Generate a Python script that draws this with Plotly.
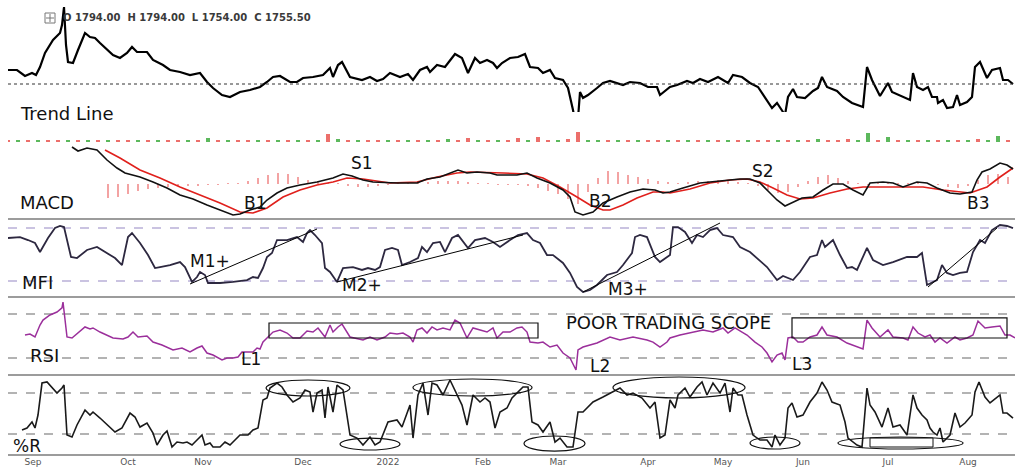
import plotly.graph_objects as go

# ---------------- data ----------------
month_ticks = [5, 24, 39, 59, 76, 95, 110, 128, 143, 159, 176, 192]
month_labels = ["Sep", "Oct", "Nov", "Dec", "2022", "Feb", "Mar", "Apr", "May", "Jun", "Jul", "Aug"]

price_t = [0, 1.8, 3.4, 4.8, 5.6, 6.4, 7.4, 9, 10.4, 10.8, 11.2, 11.6, 12, 13, 14, 15.4, 16.4, 17.4, 18.4, 19.8,
           21, 22.4, 23.8, 24.8, 25.8, 27.8, 29, 31, 32.4, 34.4, 36.4, 38.4, 39.8, 41, 42.8, 44.4, 46.4, 48.4, 50.4,
           51.8, 53, 54.4, 56.4, 57.8, 59, 61, 63, 64.4, 65, 66, 66.8, 68.4, 70.8, 72.4, 73.8, 75, 76.4, 78.4, 80,
           81, 82.4, 83.8, 84.4, 85.8, 87.4, 89.4, 90.8, 92, 93.4, 94.4, 95.8, 97, 97.8, 98.8, 100.4, 102, 103.4,
           104.4, 106, 107, 108.4, 109.4, 111, 112, 113, 113.8, 114.4, 115, 116, 117.8, 119, 120.4, 121.8, 123,
           124.4, 126.4, 128, 129.8, 130.4, 131.8, 132.4, 133.8, 135.8, 137, 138.4, 140, 142, 144, 145, 146.8,
           148.4, 150, 151.4, 152.8, 153.8, 154.8, 155.4, 156, 157, 157.8, 159.4, 161, 162, 162.8, 163.8, 165.8,
           167, 168.8, 171, 171.8, 172.8, 174.4, 176, 176.8, 179, 180.4, 181, 181.8, 183, 184, 184.8, 185.8, 186,
           187, 187.8, 189, 189.8, 190.4, 191.8, 192.8, 193.4, 194.4, 195.8, 196.8, 198.4, 199, 200, 201]
price_v = [1776.5, 1776.5, 1767.5, 1772, 1769, 1781, 1802, 1821.5, 1832, 1844, 1871, 1814, 1788.5, 1787, 1806.5,
           1832, 1826, 1824.5, 1817, 1806.5, 1799, 1794.5, 1802, 1811, 1803.5, 1803.5, 1791.5, 1784, 1776.5,
           1773.5, 1769, 1772, 1758.5, 1749.5, 1739, 1736, 1743.5, 1746.5, 1751, 1758.5, 1766, 1767.5, 1758.5,
           1758.5, 1764.5, 1766, 1769, 1779.5, 1766, 1784, 1788.5, 1766, 1761.5, 1766, 1760, 1763, 1772, 1766,
           1770.5, 1761.5, 1776.5, 1781, 1773.5, 1784, 1781, 1800.5, 1794.5, 1772, 1794.5, 1787, 1791.5, 1787,
           1779.5, 1787, 1794.5, 1796, 1800.5, 1781, 1779.5, 1772, 1776.5, 1764.5, 1761.5, 1749.5, 1716.5, 1683.5,
           1743.5, 1734.5, 1739, 1749.5, 1757, 1760, 1757, 1754, 1758.5, 1757, 1751, 1751, 1739, 1746.5, 1751,
           1754, 1760, 1757, 1763, 1758.5, 1766, 1757, 1769, 1766, 1757, 1751, 1734.5, 1719.5, 1727, 1716.5, 1709,
           1736, 1748, 1736, 1734.5, 1745, 1749.5, 1766, 1751, 1745, 1736, 1727, 1721, 1781, 1761.5, 1737.5, 1757,
           1743.5, 1736, 1731.5, 1772, 1751, 1746.5, 1751, 1736, 1736, 1727, 1731.5, 1719.5, 1721, 1739, 1724,
           1728.5, 1736, 1781, 1788.5, 1764.5, 1776.5, 1779.5, 1761.5, 1761.5, 1755.5]
last_close = 1755.5

vol_t = list(range(0, 201, 2))
vol_v = [14, 12, 15, 13, 16, 12, 14, 13, 15, 12,
         13, 15, 12, 14, 13, 16, 12, 15, 13, 14,
         45, 13, 12, 15, 14, 13, 12, 14, 13, 15,
         14, 16, 80, 30, 13, 14, 12, 13, 15, 14,
         13, 14, 15, 12, 30, 13, 40, 13, 12, 14,
         13, 40, 15, 50, 14, 16, 30, 100, 13, 20,
         12, 14, 13, 12, 15, 13, 14, 12, 13, 14,
         12, 13, 14, 15, 12, 13, 20, 13, 12, 14,
         13, 30, 14, 25, 28, 15, 90, 20, 50, 13,
         12, 14, 13, 15, 12, 14, 13, 30, 25, 60, 14]
vol_dir = ("rgrgrrgrgr" "grrgrgrrgr" "grgrrgrgrg" "rgrgrgrrgr" "grgrgrrgrg"
           "rrgrrgrrgg" "rgrgrrgrgr" "grgrgrrgrg" "rgrrrggrgr" "grgrgrgrggr")

macd_t = [12.8, 14, 15.8, 17.8, 19.8, 21.8, 23.4, 26.4, 29, 31.8, 34.4, 37, 39.8, 42.4, 45, 46.4, 48.4, 50.4,
          51.8, 53.8, 55.8, 58.4, 61.8, 65, 67, 68.8, 71, 73, 75.8, 77.8, 81.8, 83.8, 86.4, 88.4, 90, 91.8, 93.8,
          96.4, 97.8, 101.8, 103.8, 105.8, 108.4, 111, 112.4, 113.4, 115, 117, 119, 121.8, 124.4, 127, 129.4, 131,
          132.4, 135, 138.4, 142.4, 146.4, 148.4, 150.4, 152.4, 153.8, 155.4, 157, 158.8, 161, 163, 165, 167, 169,
          171, 172.4, 175, 177, 179, 181.8, 183.8, 185.8, 188.4, 190.4, 192.8, 193.8, 194.8, 196.4, 198.4, 199.8, 201]
macd_v = [37, 33, 36, 34, 24, 16, 11, 7, 2, -4, -11, -15, -21, -26, -31, -30, -26, -23, -16, -9, -4, -1, 2, 6, 10,
          8, 4, 2, 1, 1, 1, 5, 7, 11, 14, 11, 12, 11, 9, 9, 11, 6, 1, -6, -13, -28, -31, -28, -19, -13, -8, -5, -6,
          -9, -8, -4, 1, 3, 5, 5, 1, -9, -16, -22, -18, -14, -13, -6, 0, 0, -6, -11, 1, 2, 1, -3, 2, 1, -4, -9,
          -10, -8, 4, 12, 15, 21, 19, 15]
signal_t = [19.4, 22.4, 26.4, 30.4, 34.4, 38.4, 42.4, 46.4, 49, 51.8, 55, 58.4, 61.8, 65, 67.8, 71, 76.4, 81.8,
            85.8, 89.8, 92.4, 99, 103.8, 107, 110.4, 113.8, 116.4, 119, 120.4, 123, 125.8, 129, 131, 132.4, 136.4,
            140.4, 144.4, 147.8, 150.4, 153, 155.8, 158.4, 161, 164.4, 167.8, 171, 175, 179, 183, 187, 190.4,
            192.4, 195.8, 198.4, 201]
signal_v = [34, 26, 14, 6, -3, -11, -19, -28, -29, -24, -13, -6, -1, 2, 6, 5, 1, 2, 7, 11, 12, 11, 10, 6, -3, -13,
            -21, -26, -26, -21, -14, -8, -8, -9, -5, 1, 4, 5, 2, -4, -11, -15, -14, -9, -5, -3, -3, -3, -3, -6, -8,
            -9, -3, 7, 16]
hist_t = list(range(20, 201, 2))
hist_v = [-14, -13, -10, -7, -5, -4, -3, -2, -2, -2, -1, -1, 0.5, 1, 3, 6, 9, 11, 10, 7, 4, 2, 1, 1, -2, -3, -3,
          -2, -1, 0.5, 1, 1, 2, 3, 3, 3, 2, 1, 0.5, -0.5, -1, -1, -2, -4, -7, -10, -15, -20, -8, 6, 13, 12, 9, 7,
          5, 3, 2, 1, 2, 3, 3, 4, 3, 2, 1, -2, -6, -9, -8, -3, 3, 7, 9, 6, 3, 1, -1, 1, 1, 1, 0.5, 1, 0.5, -1,
          -3, -4, -2, 4, 9, 10, 7]

mfi_t = [0, 2.4, 4, 5.4, 6.4, 7, 8, 9.4, 10.4, 11.2, 11.8, 12.6, 13.8, 15.8, 17.8, 19.8, 21.4, 22.8, 24, 24.8,
         26.4, 28, 29.4, 30.4, 32.4, 34.4, 35.4, 36.8, 37.8, 38.4, 39.4, 40, 42.4, 45, 47.8, 49, 50, 51, 51.8,
         52.8, 53.8, 55.8, 57.8, 59, 59.8, 60.4, 61.4, 62.8, 63.4, 64.4, 65.8, 67, 69, 70.8, 72, 73.4, 74.4, 75.4,
         76.8, 78, 78.8, 80.4, 82, 82.8, 83.8, 85, 86.4, 87.4, 88.8, 90, 91, 92, 93.4, 95.4, 97, 98.4, 100.4, 102,
         103.8, 105, 106.4, 107.8, 109, 111, 112.4, 113.8, 115, 116.4, 117.8, 119.8, 121.8, 123, 124.8, 125.4,
         126.4, 127.8, 129.4, 130.4, 132.4, 133, 134, 135.4, 136.8, 137.8, 139, 140.4, 141.8, 143, 145, 146.4,
         148.4, 149.8, 151.8, 153.8, 155, 157, 158.4, 160.4, 161.8, 162.8, 163.4, 165, 166.4, 167.8, 168.8, 169.8,
         171.8, 173, 175, 177, 179.8, 181.8, 182.8, 183.8, 185.8, 186.8, 187.8, 189, 190.4, 191.8, 193, 194.4,
         195.4, 196.8, 198.4, 199.8, 201]
mfi_v = [68.7, 69.8, 66.4, 63, 52.8, 58.5, 68.7, 80, 82.3, 81.1, 66.4, 47.2, 46, 55.1, 58.5, 51.7, 46, 38.1, 69.8,
         74.3, 63, 49.4, 34.7, 35.8, 38.1, 41.5, 35.8, 18.9, 24.5, 30.2, 26.8, 17.7, 17.7, 18.9, 21.1, 24.5, 23.4,
         34.7, 47.2, 51.7, 66.4, 66.4, 69.8, 64.2, 74.3, 77.7, 72.1, 63, 34.7, 30.2, 18.9, 34.7, 35.8, 32.5, 34.7,
         32.5, 35.8, 55.1, 57.4, 55.1, 38.1, 41.5, 46, 58.5, 52.8, 63, 64.2, 52.8, 68.7, 72.1, 64.2, 57.4, 66.4,
         68.7, 64.2, 58.5, 66.4, 72.1, 74.3, 66.4, 63, 49.4, 49.4, 40.4, 29.1, 13.2, 7.5, 9.8, 15.5, 26.8, 30.2,
         38.1, 51.7, 69.8, 72.1, 69.8, 47.2, 41.5, 49.4, 81.1, 81.1, 75.5, 63, 72.1, 69.8, 77.7, 80, 72.1, 69.8,
         58.5, 52.8, 46, 35.8, 21.1, 25.7, 21.1, 30.2, 47.2, 49.4, 66.4, 58.5, 66.4, 49.4, 34.7, 35.8, 32.5, 57.4,
         43.8, 38.1, 41.5, 47.2, 47.2, 51.7, 15.5, 21.1, 38.1, 29.1, 26.8, 29.1, 30.2, 52.8, 66.4, 63, 77.7, 83.4,
         82.3, 80]
mfi_trend_t = [[36.4, 61.8], [65.8, 103.0], [115.0, 142.4], [184.0, 197.8]]
mfi_trend_v = [[16.6, 78.9], [18.9, 72.1], [7.5, 85.7], [13.2, 80.0]]

rsi_t = [3.4, 4.4, 5.4, 6.4, 7, 8.4, 9.8, 10.8, 11, 11.8, 12.8, 14, 15.4, 16.4, 17, 18.4, 19.8, 21, 23, 24, 25, 26,
         27.8, 29, 30.8, 31.8, 33, 34.8, 36.4, 37.8, 38.8, 39.8, 41, 42.8, 43.8, 45, 46, 46.8, 49, 49.8, 50.4, 51,
         52, 53, 54.4, 55.8, 57, 58.4, 59.8, 61, 62, 63.4, 64.4, 65, 66, 66.8, 68.4, 71, 72.4, 73.8, 75.4, 76.4,
         77.8, 79, 80.4, 81, 81.8, 82.8, 83.8, 84.8, 85.8, 87, 88.4, 89.4, 90.4, 91.8, 93, 94.4, 95.8, 97, 97.8,
         99, 100.4, 101.8, 102.8, 103.8, 104.4, 106, 107, 108.4, 109.8, 111, 112.4, 113.6, 114, 115, 117.8, 120.4,
         122.4, 125, 127.8, 129, 130.4, 131.8, 132.4, 134.4, 137, 139, 141, 143, 144, 145.4, 146.8, 147.8, 149.4,
         150.8, 151.8, 152.8, 153.8, 154.8, 155.4, 156, 157, 158, 159, 160.4, 161.8, 162.8, 163.8, 165.8, 167.8,
         169.8, 171, 171.8, 172.8, 174.4, 176, 177, 179, 180, 181, 182, 183.4, 184.4, 185.4, 186.4, 187.8, 189.4,
         190.4, 191.8, 193, 194, 195.4, 196.8, 198.4, 199.4, 200.4, 201.4]
rsi_v = [50.9, 51.8, 49.1, 60, 64.5, 69.1, 71.8, 75.5, 80.9, 49.1, 48.2, 52.7, 58.2, 56.4, 57.3, 53.6, 50.9, 48.2,
         47.3, 49.1, 53.6, 49.1, 50, 44.5, 41.8, 40, 37.3, 39.1, 35.5, 39.1, 40.9, 34.5, 32.7, 28.2, 30, 30, 30.9,
         35.5, 35.5, 39.1, 38.2, 44.5, 49.1, 53.6, 55.5, 52.7, 48.2, 48.2, 54.5, 53.6, 57.3, 49.1, 60, 53.6, 58.2,
         60.9, 49.1, 46.4, 49.1, 46.4, 49.1, 52.7, 51.8, 52.7, 49.1, 44.5, 55.5, 57.3, 52.7, 58.2, 55.5, 57.3, 55.5,
         64.5, 61.8, 48.2, 57.3, 55.5, 53.6, 57.3, 48.2, 53.6, 53.6, 57.3, 58.2, 53.6, 44.5, 43.6, 44.5, 40, 41.8,
         34.5, 30, 19.1, 37.3, 40, 43.6, 49.1, 46.4, 49.1, 46.4, 44.5, 40, 44.5, 48.2, 50.9, 53.6, 55.5, 53.6, 57.3,
         52.7, 57.3, 53.6, 50.9, 44.5, 40, 34.5, 26.4, 32.7, 34.5, 28.2, 48.2, 49.1, 44.5, 44.5, 49.1, 50.9, 58.2,
         50.9, 49.1, 43.6, 40, 38.2, 64.5, 57.3, 49.1, 55.5, 49.1, 48.2, 46.4, 58.2, 52.7, 49.1, 50.9, 44.5, 48.2,
         43.6, 49.1, 46.4, 48.2, 50.9, 63.6, 57.3, 58.2, 59.1, 50.9, 50.9, 48.2]
rsi_box_t0 = [52.2, 156.8]
rsi_box_t1 = [106.0, 199.8]
rsi_box_lo = [48.2, 48.2]
rsi_box_hi = [61.8, 66.4]

wr_t = [2.8, 3.8, 4.8, 5.4, 6, 6.8, 7.8, 9, 9.8, 10.8, 11.2, 11.8, 12.8, 13.8, 15.4, 16.4, 17, 18.4, 19.8, 21.4,
        22.8, 24.4, 25.4, 26.4, 27.8, 29, 29.8, 31, 31.8, 32.8, 33.8, 35, 35.8, 36.8, 37.8, 38.8, 39.4, 40.4, 41,
        42.4, 43.4, 44.4, 45.4, 46.4, 48, 49, 50, 51, 51.8, 52.4, 53.8, 54.8, 55.8, 57, 58.4, 59.4, 60.4, 61, 61.8,
        62.8, 63.4, 64, 65, 65.8, 67, 68.4, 69.8, 71, 72.4, 73.4, 74.4, 75, 76, 77.8, 78.8, 80.4, 81, 82, 83, 84,
        84.8, 85.8, 87, 88.4, 89.8, 90.8, 91.8, 93, 94.4, 95.4, 96.4, 97.4, 98.4, 99.8, 100.8, 102, 103, 104,
        104.8, 106, 107, 108.4, 109.4, 110.4, 111.8, 113, 114, 115, 117, 119, 120.8, 122.4, 123.8, 125, 126.8,
        128.4, 129.4, 130.4, 131.4, 132.4, 133.4, 134, 135.4, 136.4, 137.8, 138.8, 139.8, 141, 142.4, 143.4, 144.4,
        145, 146, 146.8, 147.8, 149, 150.4, 151.8, 152.8, 153.4, 154.4, 155.4, 156, 156.8, 157.8, 159, 160.4,
        161.8, 162.8, 163.8, 164.8, 166.4, 167.4, 168, 169.8, 170.8, 171.8, 172.4, 173.4, 174.8, 176, 177, 178.4,
        179.8, 181, 181.8, 182.8, 183.8, 184.4, 185, 185.8, 186.4, 187, 188.4, 189.4, 190.4, 191.4, 192.8, 193.4,
        194.2, 195.4, 196.4, 198.4, 199, 199.8, 201]
wr_v = [-74.1, -71.2, -62.4, -71.2, -52.2, -5.4, -3.9, -12.7, -20, -12.7, -8.3, -81.5, -84.4, -66.8, -44.9, -52.2,
        -47.8, -56.6, -66.8, -77.1, -71.2, -49.3, -55.1, -69.8, -63.9, -78.5, -96.1, -81.5, -75.6, -99, -91.7,
        -93.2, -91.7, -96.1, -88.8, -81.5, -96.1, -93.2, -99, -99, -91.7, -96.1, -88.8, -81.5, -81.5, -74.1, -71.2,
        -30.2, -27.3, -12.7, -5.4, -11.2, -22.9, -33.2, -27.3, -15.6, -18.5, -47.8, -20, -15.6, -56.6, -11.2,
        -47.8, -8.3, -15.6, -81.5, -85.9, -96.1, -84.4, -96.1, -91.7, -81.5, -62.4, -59.5, -69.8, -37.6, -85.9,
        -22.9, -5.4, -52.2, -5.4, -8.3, -22.9, -1, -22.9, -37.6, -66.8, -22.9, -33.2, -27.3, -33.2, -71.2, -47.8,
        -42, -27.3, -18.5, -11.2, -11.2, -62.4, -66.8, -77.1, -62.4, -91.7, -85.9, -99, -99, -47.8, -47.8, -33.2,
        -25.9, -18.5, -12.7, -22.9, -20, -27.3, -42, -33.2, -85.9, -81.5, -30.2, -42, -22.9, -12.7, -25.9, -11.2,
        -3.9, -22.9, -5.4, -20, -5.4, -47.8, -12.7, -22.9, -22.9, -52.2, -81.5, -88.8, -88.8, -99, -81.5, -96.1,
        -85.9, -42, -34.6, -55.1, -52.2, -33.2, -20, -3.9, -15.6, -33.2, -37.6, -62.4, -85.9, -96.1, -99, -12.7,
        -37.6, -47.8, -69.8, -42, -69.8, -66.8, -81.5, -22.9, -42, -52.2, -59.5, -71.2, -77.1, -81.5, -71.2,
        -91.7, -81.5, -49.3, -69.8, -63.9, -52.2, -18.5, -3.9, -25.9, -34.6, -22.9, -49.3, -49.3, -56.6]
ell_t0 = [51.6, 66.4, 81.0, 103.2, 121.0, 148.4, 166.0]
ell_t1 = [68.4, 78.4, 104.8, 115.4, 147.4, 158.4, 191.0]
ell_lo = [-24.4, -103.4, -24.4, -104.9, -27.3, -101.9, -101.9]
ell_hi = [-1.0, -85.9, 0.5, -82.9, 3.4, -84.4, -84.4]
wr_box_t = [172.4, 185.0]
wr_box_v = [-99.0, -85.9]

# ---------------- layout helpers ----------------
H_PLOT = 455.0
W_PLOT = 1007.0


def px(x):
    return (x - 8) / W_PLOT


def py(y):
    return 1 - y / H_PLOT


def dom(y_top, y_bot):
    return [py(y_bot), py(y_top)]


FONT = "DejaVu Sans"
fig = go.Figure()

# price
fig.add_trace(go.Scatter(x=price_t, y=price_v, mode="lines", line=dict(color="#000000", width=2.2),
                         yaxis="y", showlegend=False, hoverinfo="skip"))
fig.add_trace(go.Scatter(x=[0, 201.4], y=[last_close, last_close], mode="lines",
                         line=dict(color="#333333", width=1, dash="dot"), yaxis="y", showlegend=False))
# volume
vol_colors = ["#5cb85c" if c == "g" else "#ec6f6b" for c in vol_dir]
fig.add_trace(go.Bar(x=vol_t, y=vol_v, marker=dict(color=vol_colors, line=dict(width=0)), width=0.7,
                     yaxis="y6", showlegend=False))
# MACD
fig.add_trace(go.Bar(x=hist_t, y=hist_v, marker=dict(color="#f3a3a3", line=dict(width=0)), width=0.35,
                     yaxis="y2", showlegend=False))
fig.add_trace(go.Scatter(x=signal_t, y=signal_v, mode="lines", line=dict(color="#e0201c", width=1.6),
                         yaxis="y2", showlegend=False))
fig.add_trace(go.Scatter(x=macd_t, y=macd_v, mode="lines", line=dict(color="#111111", width=1.6),
                         yaxis="y2", showlegend=False))
# MFI
for lvl in (80, 20):
    fig.add_trace(go.Scatter(x=[0, 201.4], y=[lvl, lvl], mode="lines",
                             line=dict(color="#b9b0d8", width=1.4, dash="dash"), yaxis="y3", showlegend=False))
fig.add_trace(go.Scatter(x=mfi_t, y=mfi_v, mode="lines", line=dict(color="#2d2840", width=1.8),
                         yaxis="y3", showlegend=False))
for tt, vv in zip(mfi_trend_t, mfi_trend_v):
    fig.add_trace(go.Scatter(x=tt, y=vv, mode="lines", line=dict(color="#000000", width=1),
                             yaxis="y3", showlegend=False))
# RSI
for lvl in (70, 30):
    fig.add_trace(go.Scatter(x=[0, 201.4], y=[lvl, lvl], mode="lines",
                             line=dict(color="#9a9a9a", width=1.6, dash="dash"), yaxis="y4", showlegend=False))
fig.add_trace(go.Scatter(x=rsi_t, y=rsi_v, mode="lines", line=dict(color="#9b2f9b", width=1.5),
                         yaxis="y4", showlegend=False))
# %R
for lvl in (-20, -80):
    fig.add_trace(go.Scatter(x=[0, 201.4], y=[lvl, lvl], mode="lines",
                             line=dict(color="#9a9a9a", width=1.6, dash="dash"), yaxis="y5", showlegend=False))
fig.add_trace(go.Scatter(x=wr_t, y=wr_v, mode="lines", line=dict(color="#1a1a1a", width=1.6),
                         yaxis="y5", showlegend=False))

shapes = []
for a, b, lo, hi in zip(rsi_box_t0, rsi_box_t1, rsi_box_lo, rsi_box_hi):
    shapes.append(dict(type="rect", xref="x", yref="y4", x0=a, x1=b, y0=lo, y1=hi,
                       line=dict(color="#111111", width=1.2)))
for a, b, lo, hi in zip(ell_t0, ell_t1, ell_lo, ell_hi):
    shapes.append(dict(type="circle", xref="x", yref="y5", x0=a, x1=b, y0=lo, y1=hi,
                       line=dict(color="#111111", width=1.2)))
shapes.append(dict(type="rect", xref="x", yref="y5", x0=wr_box_t[0], x1=wr_box_t[1], y0=wr_box_v[0],
                   y1=wr_box_v[1], line=dict(color="#111111", width=1), fillcolor="white"))
for ysep in (219, 297, 375, 455):
    shapes.append(dict(type="line", xref="paper", yref="paper", x0=0, x1=1, y0=py(ysep), y1=py(ysep),
                       line=dict(color="#9c9c9c", width=2)))
# header icon (small boxed plus)
shapes.append(dict(type="rect", xref="paper", yref="paper", x0=px(45), x1=px(55), y0=py(23), y1=py(13),
                   line=dict(color="#777777", width=1)))
shapes.append(dict(type="line", xref="paper", yref="paper", x0=px(50), x1=px(50), y0=py(22), y1=py(14),
                   line=dict(color="#777777", width=1)))
shapes.append(dict(type="line", xref="paper", yref="paper", x0=px(46), x1=px(54), y0=py(18), y1=py(18),
                   line=dict(color="#777777", width=1)))

labels = [
    ("Trend Line", 18, 113, 18, "left"),
    ("MACD", 18, 202, 18, "left"),
    ("MFI", 20, 282, 18, "left"),
    ("RSI", 28, 355, 18, "left"),
    ("%R", 11, 446, 17, "left"),
    ("B1", 255, 203, 17, "center"),
    ("S1", 362, 163, 17, "center"),
    ("B2", 600, 201, 17, "center"),
    ("S2", 763, 171, 17, "center"),
    ("B3", 978, 203, 17, "center"),
    ("M1+", 210, 261, 17, "center"),
    ("M2+", 362, 285, 17, "center"),
    ("M3+", 628, 289, 17, "center"),
    ("L1", 251, 359, 17, "center"),
    ("L2", 600, 366, 17, "center"),
    ("L3", 802, 364, 17, "center"),
    ("POOR TRADING SCOPE", 668, 322, 18, "center"),
]
annotations = []
for text, x, y, size, anchor in labels:
    annotations.append(dict(text=text, x=px(x), y=py(y), xref="paper", yref="paper", xanchor=anchor,
                            yanchor="middle", showarrow=False, font=dict(family=FONT, size=size, color="#111111")))
annotations.append(dict(text="<b>O 1794.00  H 1794.00  L 1754.00  C 1755.50</b>",
                        x=px(61), y=py(18), xref="paper", yref="paper", xanchor="left", yanchor="middle",
                        showarrow=False, font=dict(family=FONT, size=10, color="#3a3a3a")))

hidden = dict(showgrid=False, zeroline=False, showticklabels=False, ticks="", showline=False, fixedrange=True)
fig.update_layout(
    width=1018, height=468,
    margin=dict(l=8, r=3, t=0, b=13),
    paper_bgcolor="white", plot_bgcolor="white",
    showlegend=False, bargap=0,
    shapes=shapes, annotations=annotations,
    xaxis=dict(range=[0, 201.4], anchor="y5", showgrid=False, zeroline=False, showline=False,
               tickmode="array", tickvals=month_ticks, ticktext=month_labels, ticks="",
               tickfont=dict(family=FONT, size=9, color="#555555")),
    yaxis=dict(domain=dom(0, 142), range=[1668.5, 1881.5], **hidden),
    yaxis6=dict(domain=dom(112, 142), range=[0, 300], anchor="x", **hidden),
    yaxis2=dict(domain=dom(143, 218), range=[-34, 41], anchor="x", **hidden),
    yaxis3=dict(domain=dom(220, 296), range=[3.0, 89.1], anchor="x", **hidden),
    yaxis4=dict(domain=dom(299, 374), range=[15.45, 83.64], anchor="x", **hidden),
    yaxis5=dict(domain=dom(376, 455), range=[-110.7, 4.88], anchor="x", **hidden),
)

fig.write_html("out.html", config={"displayModeBar": False},
               post_script="document.body.style.margin='0px';document.body.style.overflow='hidden';")
